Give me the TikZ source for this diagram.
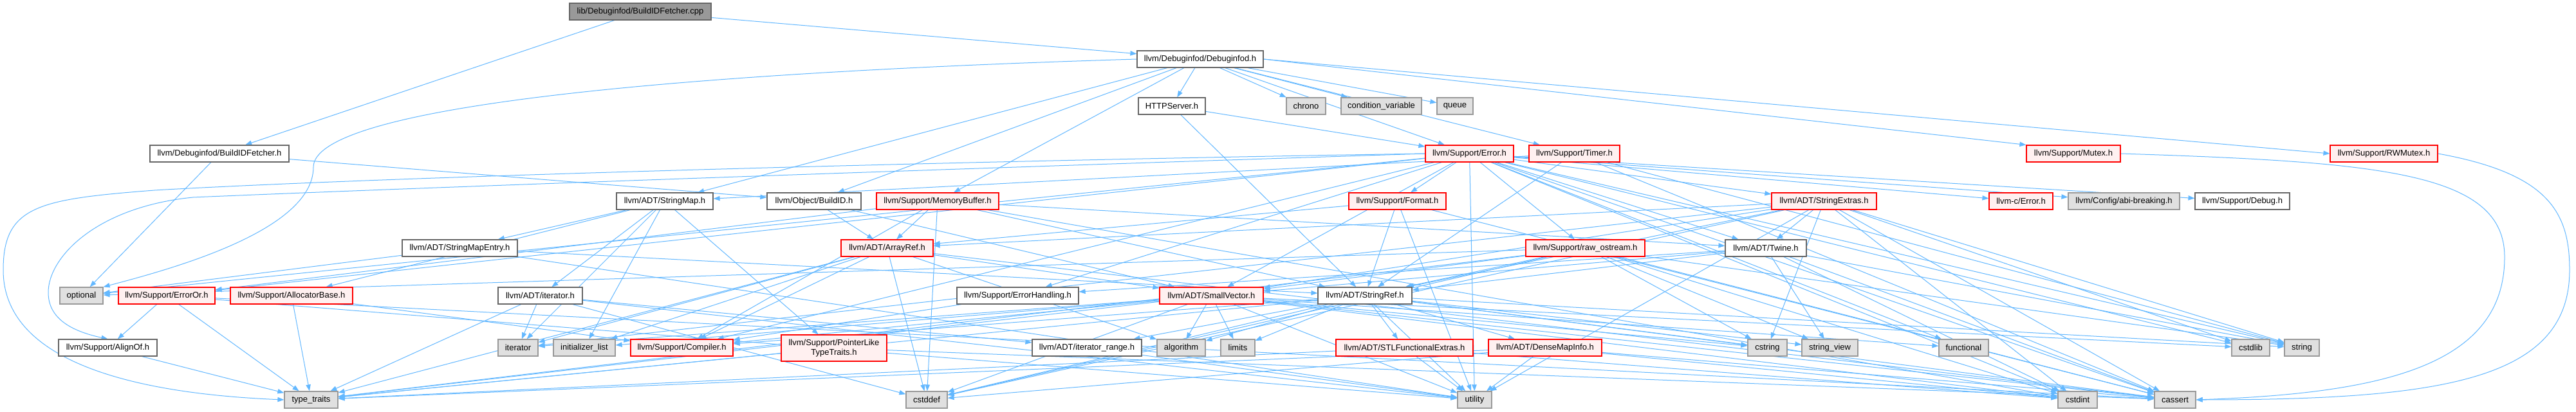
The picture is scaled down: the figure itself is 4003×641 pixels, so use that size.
\documentclass[tikz,border=0pt]{standalone}
\usepackage{fontspec}
\setmainfont{Liberation Sans}
\usetikzlibrary{arrows.meta,backgrounds}
\definecolor{edgeblue}{HTML}{63B8FF}
\definecolor{redfill}{HTML}{FFF0F0}
\definecolor{grayfill}{HTML}{E0E0E0}
\definecolor{grayline}{HTML}{999999}
\definecolor{darkline}{HTML}{666666}
\definecolor{rootfill}{HTML}{999999}
\definecolor{redline}{HTML}{FF0000}
\tikzset{
  base/.style={draw, line width=0.9pt, inner sep=0pt, font=\fontsize{9.75pt}{11.5pt}\selectfont, text=black, align=center},
  whitebox/.style={base, draw=darkline, fill=white},
  redbox/.style={base, draw=redline, fill=redfill},
  graybox/.style={base, draw=grayline, fill=grayfill},
  rootbox/.style={base, draw=darkline, fill=rootfill},
  inc/.style={draw=edgeblue, line width=0.75pt, -{Triangle[length=7.5pt,width=5.5pt]}},
}
\newcommand{\nd}[7]{%
  \pgfmathsetmacro{\ndw}{(#5-#3)*0.75}%
  \pgfmathsetmacro{\ndh}{(#6-#4)*0.75}%
  \pgfmathsetmacro{\ndx}{(#3+#5)/2}%
  \pgfmathsetmacro{\ndy}{(#4+#6)/2}%
  \node[#2, minimum width=\ndw pt, minimum height=\ndh pt] (#1) at (\ndx,\ndy) {#7};%
}
\newcommand{\edges}[2]{\foreach \t in {#2} {\draw[inc] (#1) -- (\t);}}
\begin{document}
\begin{tikzpicture}[x=0.75pt,y=-0.75pt]
\useasboundingbox (0,0) rectangle (4003,641);
% row 0
\nd{cpp}{rootbox}{885}{5}{1105}{31}{lib/Debuginfod/BuildIDFetcher.cpp}
% row 1
\nd{dbg}{whitebox}{1767}{79}{1963}{105}{llvm/Debuginfod/Debuginfod.h}
% row 2
\nd{http}{whitebox}{1769}{152}{1873}{178}{HTTPServer.h}
\nd{chrono}{graybox}{1999}{152}{2060}{178}{chrono}
\nd{condvar}{graybox}{2084}{152}{2209}{178}{condition\_variable}
\nd{queue}{graybox}{2233}{152}{2289}{178}{queue}
% row 3
\nd{bfh}{whitebox}{233}{226}{449}{252}{llvm/Debuginfod/BuildIDFetcher.h}
\nd{err}{redbox}{2215}{226}{2352}{252}{llvm/Support/Error.h}
\nd{timer}{redbox}{2376}{226}{2517}{252}{llvm/Support/Timer.h}
\nd{mutex}{redbox}{3149}{226}{3295}{252}{llvm/Support/Mutex.h}
\nd{rwmutex}{redbox}{3621}{226}{3788}{252}{llvm/Support/RWMutex.h}
% row 4
\nd{smap}{whitebox}{958}{300}{1108}{326}{llvm/ADT/StringMap.h}
\nd{bid}{whitebox}{1192}{300}{1338}{326}{llvm/Object/BuildID.h}
\nd{mbuf}{redbox}{1362}{300}{1552}{326}{llvm/Support/MemoryBuffer.h}
\nd{format}{redbox}{2096}{300}{2247}{326}{llvm/Support/Format.h}
\nd{sextras}{redbox}{2753}{300}{2916}{326}{llvm/ADT/StringExtras.h}
\nd{cerr}{redbox}{3091}{300}{3190}{326}{llvm-c/Error.h}
\nd{abi}{graybox}{3214}{300}{3387}{326}{llvm/Config/abi-breaking.h}
\nd{debug}{whitebox}{3411}{300}{3558}{326}{llvm/Support/Debug.h}
% row 5
\nd{smapentry}{whitebox}{625}{373}{804}{399}{llvm/ADT/StringMapEntry.h}
\nd{arrayref}{redbox}{1307}{373}{1450}{399}{llvm/ADT/ArrayRef.h}
\nd{rawos}{redbox}{2371}{373}{2556}{399}{llvm/Support/raw\_ostream.h}
\nd{twine}{whitebox}{2681}{373}{2807}{399}{llvm/ADT/Twine.h}
% row 6
\nd{optional}{graybox}{93}{447}{160}{473}{optional}
\nd{erroror}{redbox}{184}{447}{334}{473}{llvm/Support/ErrorOr.h}
\nd{allocbase}{redbox}{358}{447}{548}{473}{llvm/Support/AllocatorBase.h}
\nd{iterh}{whitebox}{774}{447}{905}{473}{llvm/ADT/iterator.h}
\nd{errhand}{whitebox}{1487}{447}{1676}{473}{llvm/Support/ErrorHandling.h}
\nd{svec}{redbox}{1802}{447}{1963}{473}{llvm/ADT/SmallVector.h}
\nd{sref}{whitebox}{2048}{447}{2194}{473}{llvm/ADT/StringRef.h}
% row 7
\nd{alignof}{whitebox}{91}{528}{244}{554}{llvm/Support/AlignOf.h}
\nd{iterator}{graybox}{774}{528}{836}{554}{iterator}
\nd{initlist}{graybox}{860}{528}{956}{554}{initializer\_list}
\nd{compiler}{redbox}{980}{528}{1139}{554}{llvm/Support/Compiler.h}
\nd{ptrlike}{redbox}{1214}{521}{1378}{562}{llvm/Support/PointerLike\\TypeTraits.h}
\nd{iterrange}{whitebox}{1604}{528}{1774}{554}{llvm/ADT/iterator\_range.h}
\nd{algorithm}{graybox}{1798}{528}{1873}{554}{algorithm}
\nd{limits}{graybox}{1897}{528}{1950}{554}{limits}
\nd{stlfe}{redbox}{2076}{528}{2289}{554}{llvm/ADT/STLFunctionalExtras.h}
\nd{densemap}{redbox}{2313}{528}{2489}{554}{llvm/ADT/DenseMapInfo.h}
\nd{cstring}{graybox}{2716}{528}{2777}{554}{cstring}
\nd{strview}{graybox}{2800}{528}{2887}{554}{string\_view}
\nd{functional}{graybox}{3013}{528}{3090}{554}{functional}
\nd{cstdlib}{graybox}{3468}{528}{3527}{554}{cstdlib}
\nd{string}{graybox}{3550}{528}{3604}{554}{string}
% row 8
\nd{typetraits}{graybox}{442}{609}{525}{635}{type\_traits}
\nd{cstddef}{graybox}{1408}{609}{1472}{635}{cstddef}
\nd{utility}{graybox}{2265}{609}{2318}{635}{utility}
\nd{cstdint}{graybox}{3198}{609}{3259}{635}{cstdint}
\nd{cassert}{graybox}{3348}{609}{3412}{635}{cassert}

\begin{pgfonlayer}{background}
\fill[white] (0,0) rectangle (4003,641);
\edges{cpp}{bfh,dbg}
\edges{bfh}{optional,bid}
\edges{dbg}{http,chrono,condvar,queue,err,timer,smap,bid,mbuf}
\draw[inc] (dbg.east) -- (mutex.north west);
\draw[inc] (dbg.east) -- (rwmutex.west);
\draw[inc] (dbg.west) .. controls (1000,115) and (487,170) .. (487,260) .. controls (487,360) and (260,420) .. (optional.north east);
\edges{http}{err,sref}
\edges{err}{cerr,twine,abi,compiler,debug,errhand,erroror,format,rawos,sextras,svec,cassert,cstdint,cstdlib,functional,optional,string,utility}
\draw[inc] (err.west) .. controls (1500,250) and (600,275) .. (240,296) .. controls (60,310) and (5,320) .. (5,420) .. controls (5,560) and (200,612) .. (typetraits.west);
\draw[inc] (err.west) .. controls (1500,262) and (700,290) .. (300,307) .. controls (150,322) and (75,400) .. (75,455) .. controls (75,495) and (110,515) .. (alignof.north);
\edges{timer}{smap,sref,cassert,string}
\draw[inc] (mutex.east) .. controls (3700,252) and (3892,268) .. (3892,400) .. controls (3892,570) and (3700,612) .. (cassert.east);
\draw[inc] (rwmutex.east) .. controls (3960,270) and (3993,330) .. (3993,420) .. controls (3993,590) and (3800,622) .. (cassert.east);
\edges{smap}{smapentry,allocbase,iterh,iterator,initlist,ptrlike}
\edges{bid}{arrayref,svec}
\edges{mbuf}{arrayref,sref,twine,erroror,compiler,cstddef,cstdint}
\edges{format}{arrayref,sref,cassert,utility}
\edges{sextras}{twine,arrayref,sref,svec,cassert,cstddef,cstdint,cstdlib,cstring,iterator,string,utility}
\edges{smapentry}{sref,optional,utility}
\edges{arrayref}{svec,compiler,cassert,cstddef,initlist,iterator,typetraits,algorithm}
\edges{rawos}{svec,sref,cassert,cstddef,cstdint,cstring,optional,string,strview,typetraits}
\edges{twine}{svec,sref,errhand,cassert,cstdint,string,strview}
\edges{erroror}{alignof,typetraits,utility,cassert}
\edges{allocbase}{compiler,typetraits}
\edges{iterh}{iterrange,cstddef,iterator,typetraits,utility}
\edges{errhand}{compiler}
\edges{svec}{compiler,algorithm,limits,cassert,cstddef,cstdint,cstdlib,cstring,functional,initlist,iterator,typetraits,utility}
\edges{sref}{densemap,iterrange,stlfe,compiler,algorithm,cassert,cstddef,cstring,limits,string,strview,typetraits,utility}
\edges{alignof}{typetraits}
\edges{ptrlike}{typetraits,cassert}
\edges{iterrange}{utility}
\edges{stlfe}{cstdint,typetraits,utility}
\edges{densemap}{cassert,cstddef,cstdint,typetraits,utility}
\end{pgfonlayer}
\end{tikzpicture}
\end{document}
